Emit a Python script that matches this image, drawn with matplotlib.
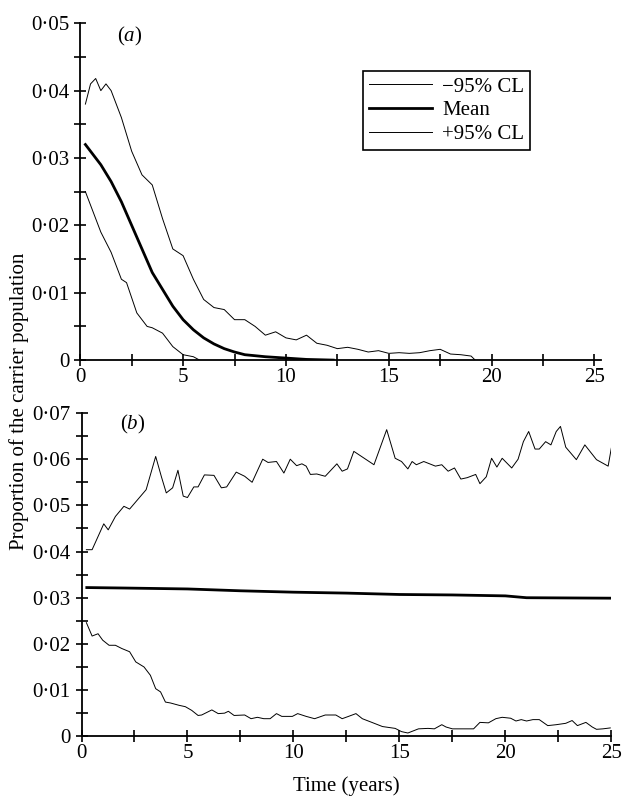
import numpy as np
import matplotlib
matplotlib.use("Agg")
import matplotlib.pyplot as plt
from matplotlib.ticker import MultipleLocator, FuncFormatter

plt.rcParams['font.family'] = ['Liberation Serif', 'DejaVu Serif']
plt.rcParams['font.size'] = 14
plt.rcParams['mathtext.fontset'] = 'custom'
plt.rcParams['mathtext.it'] = 'Liberation Serif:italic'
plt.rcParams['mathtext.rm'] = 'Liberation Serif'

# panel (a)
a_up_t = [0.25, 0.5, 0.75, 1.0, 1.25, 1.5, 1.75, 2.0, 2.5, 3.0, 3.5, 4.0, 4.5, 5.0, 5.5, 6.0, 6.5, 7.0,
          7.5, 8.0, 8.5, 9.0, 9.5, 10.0, 10.5, 11.0, 11.5, 12.0, 12.5, 13.0, 13.5, 14.0, 14.5, 15.0,
          15.5, 16.0, 16.5, 17.0, 17.5, 18.0, 18.5, 19.0, 19.2]
a_up_v = [0.038, 0.041, 0.0418, 0.040, 0.041, 0.040, 0.038, 0.036, 0.031, 0.0275, 0.026, 0.021, 0.0165,
          0.0155, 0.012, 0.009, 0.0078, 0.0075, 0.006, 0.006, 0.005, 0.0037, 0.0042, 0.0033, 0.003,
          0.0037, 0.0025, 0.0022, 0.0017, 0.0019, 0.0016, 0.0012, 0.0014, 0.001, 0.0011, 0.001, 0.0011,
          0.0014, 0.0016, 0.0009, 0.0008, 0.0006, 0.0]
a_lo_t = [0.25, 0.5, 1.0, 1.5, 2.0, 2.25, 2.75, 3.25, 3.5, 4.0, 4.5, 5.0, 5.5, 5.8]
a_lo_v = [0.025, 0.023, 0.019, 0.016, 0.012, 0.0115, 0.007, 0.005, 0.0048, 0.004, 0.002, 0.0008, 0.0005, 0.0]
a_mean_t = [0.25, 0.5, 1, 1.5, 2, 2.5, 3, 3.5, 4, 4.5, 5, 5.5, 6, 6.5, 7, 7.5, 8, 9, 10, 11, 12.3]
a_mean_v = [0.032, 0.031, 0.029, 0.0265, 0.0235, 0.020, 0.0165, 0.013, 0.0105, 0.008, 0.006, 0.0045,
            0.0033, 0.0024, 0.0017, 0.0012, 0.0008, 0.0005, 0.0003, 0.0001, 0.0]

# panel (b)
b_up_t = [0.23, 0.5, 1.05, 1.26, 1.6, 2.0, 2.27, 3.05, 3.5, 3.77, 4.0, 4.3, 4.55, 4.8, 5.0, 5.3, 5.5, 5.8,
          6.25, 6.6, 6.85, 7.3, 7.7, 8.05, 8.55, 8.8, 9.2, 9.55, 9.85, 10.15, 10.4, 10.6, 10.8, 11.1,
          11.5, 12.05, 12.3, 12.55, 12.85, 13.8, 14.4, 14.8, 15.1, 15.4, 15.6, 15.8, 16.15, 16.7, 17.0,
          17.3, 17.6, 17.9, 18.2, 18.6, 18.8, 19.1, 19.35, 19.6, 19.85, 20.3, 20.6, 20.85, 21.1, 21.4,
          21.6, 21.9, 22.15, 22.4, 22.6, 22.85, 23.35, 23.75, 24.3, 24.85, 25.0]
b_up_v = [0.0404, 0.0404, 0.046, 0.0447, 0.0476, 0.0498, 0.0492, 0.0534, 0.0606, 0.0562, 0.0527, 0.0538,
          0.0576, 0.052, 0.0517, 0.054, 0.054, 0.0566, 0.0565, 0.0538, 0.054, 0.0572, 0.0563, 0.055,
          0.060, 0.0593, 0.0595, 0.057, 0.060, 0.0586, 0.059, 0.0585, 0.0567, 0.0568, 0.0563, 0.059,
          0.0574, 0.0579, 0.0617, 0.0588, 0.0664, 0.0602, 0.0595, 0.0579, 0.0595, 0.0588, 0.0595,
          0.0585, 0.0588, 0.0574, 0.0581, 0.0557, 0.056, 0.0567, 0.0547, 0.0562, 0.0602, 0.0583, 0.0602,
          0.0581, 0.060, 0.0638, 0.066, 0.0622, 0.0622, 0.0638, 0.0631, 0.066, 0.0671, 0.0626, 0.0599,
          0.0631, 0.0599, 0.0585, 0.0624]
b_lo_t = [0.23, 0.5, 0.78, 1.0, 1.3, 1.6, 1.9, 2.27, 2.56, 2.95, 3.25, 3.5, 3.73, 3.96, 4.2, 4.6, 4.9, 5.2,
          5.5, 5.67, 6.15, 6.45, 6.75, 6.93, 7.2, 7.7, 8.0, 8.3, 8.6, 8.9, 9.2, 9.45, 9.95, 10.2, 10.6,
          11.0, 11.5, 12.0, 12.3, 12.6, 12.95, 13.25, 13.7, 14.2, 14.8, 15.1, 15.4, 15.9, 16.35, 16.65,
          17.0, 17.2, 17.5, 18.0, 18.5, 18.8, 19.2, 19.55, 19.85, 20.25, 20.5, 20.75, 21.0, 21.3, 21.6,
          22.0, 22.4, 22.85, 23.15, 23.4, 23.8, 24.1, 24.3, 24.6, 24.95]
b_lo_v = [0.0246, 0.0217, 0.0222, 0.0208, 0.0197, 0.0197, 0.019, 0.0183, 0.0161, 0.015, 0.0132, 0.0103,
          0.0096, 0.0074, 0.0072, 0.0067, 0.0064, 0.0056, 0.0045, 0.0046, 0.0057, 0.0049, 0.005, 0.0054,
          0.0045, 0.0046, 0.0038, 0.0041, 0.0038, 0.0038, 0.0049, 0.0043, 0.0043, 0.0049, 0.0043, 0.0038,
          0.0046, 0.0046, 0.0038, 0.0043, 0.0049, 0.0038, 0.003, 0.0021, 0.0017, 0.001, 0.0007, 0.0016,
          0.0017, 0.0016, 0.0025, 0.002, 0.0016, 0.0016, 0.0016, 0.003, 0.0029, 0.0038, 0.0041, 0.0039,
          0.0033, 0.0036, 0.0033, 0.0036, 0.0036, 0.0023, 0.0025, 0.0028, 0.0034, 0.0023, 0.003, 0.002,
          0.0015, 0.0016, 0.0018]
b_mean_t = [0.25, 2, 5, 7.5, 10, 12.5, 15, 17.5, 20, 21, 25]
b_mean_v = [0.0322, 0.0321, 0.0319, 0.0315, 0.0312, 0.031, 0.0307, 0.0306, 0.0304, 0.0300, 0.0299]

dot = FuncFormatter(lambda v, p: '0' if abs(v) < 1e-9 else f'{v:.2f}'.replace('.', '·'))

fig = plt.figure(figsize=(6.27, 8.02), dpi=100)
ax1 = fig.add_axes([0.128, 0.551, 0.83, 0.42])
ax2 = fig.add_axes([0.13, 0.082, 0.845, 0.403])


def style(ax, ymax, xmax):
    for s in ['top', 'right']:
        ax.spines[s].set_visible(False)
    ax.spines['left'].set_linewidth(1.3)
    ax.spines['bottom'].set_linewidth(1.3)
    ax.set_xlim(0, xmax)
    ax.set_ylim(0, ymax)
    ax.xaxis.set_major_locator(MultipleLocator(5))
    ax.xaxis.set_minor_locator(MultipleLocator(2.5))
    ax.yaxis.set_major_locator(MultipleLocator(0.01))
    ax.yaxis.set_minor_locator(MultipleLocator(0.005))
    ax.yaxis.set_major_formatter(dot)
    ax.tick_params(which='both', direction='inout', length=9, width=1.2, labelsize=15)
    ax.tick_params(axis='x', which='major', pad=1)


l1, = ax1.plot(a_lo_t, a_lo_v, color='black', lw=0.7)
l2, = ax1.plot(a_mean_t, a_mean_v, color='black', lw=2.0)
l3, = ax1.plot(a_up_t, a_up_v, color='black', lw=0.7)
style(ax1, 0.05, 25.3)
ax1.text(1.8, 0.048, '(' + r'$\it{a}$' + ')', fontsize=15, va='center', ha='left')
leg = ax1.legend([l1, l2, l3], ['−95% CL', 'Mean', '+95% CL'], loc='upper right',
                 bbox_to_anchor=(0.885, 0.89), fancybox=False, edgecolor='black',
                 framealpha=1, fontsize=15, handlelength=3.0, borderpad=0.3, labelspacing=0.2,
                 handletextpad=0.5)
leg.get_frame().set_linewidth(1.2)

ax2.plot(b_up_t, b_up_v, color='black', lw=0.7)
ax2.plot(b_mean_t, b_mean_v, color='black', lw=2.0)
ax2.plot(b_lo_t, b_lo_v, color='black', lw=0.7)
style(ax2, 0.07, 25)
ax2.text(1.8, 0.0675, '(' + r'$\it{b}$' + ')', fontsize=15, va='center', ha='left')
ax2.set_xlabel('Time (years)', fontsize=15, labelpad=10)

fig.text(0.03, 0.5, 'Proportion of the carrier population', rotation=90,
         va='center', ha='center', fontsize=15)

fig.savefig('out.png', dpi=100)
